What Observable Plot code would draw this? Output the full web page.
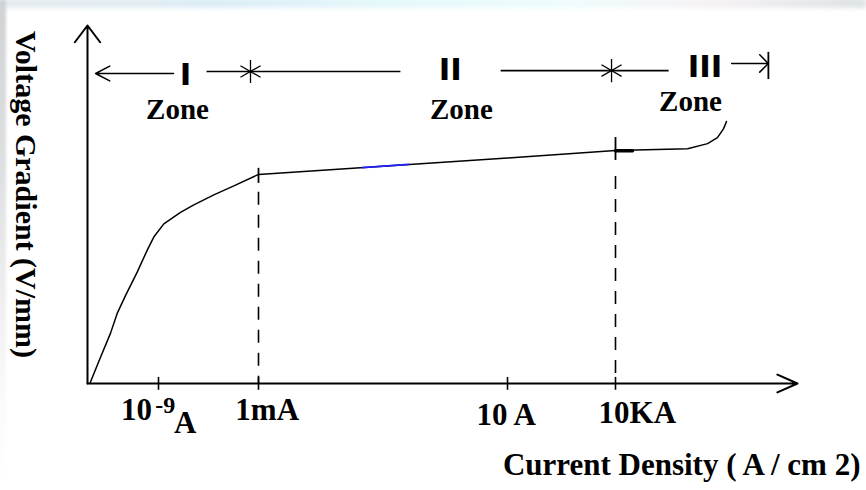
<!DOCTYPE html>
<html>
<head>
<meta charset="utf-8">
<script src="https://cdn.jsdelivr.net/npm/d3@7"></script>
<script src="https://cdn.jsdelivr.net/npm/@observablehq/plot@0.6"></script>
<style>
  html, body { margin: 0; padding: 0; background: #fff; }
  #wrap { position: relative; width: 866px; height: 490px; overflow: hidden; background: #fff; }
  #wrap::before { content: ""; position: absolute; left: 0; top: -2px; width: 866px; height: 10px; z-index: 2;
    background: linear-gradient(to right, #e6ecef, #dcedf5 25%, #e4f8fb 45%, #eefcfd 65%, #f6f2f4 82%, #dde2e5);
    filter: blur(2px); }
  #wrap::after { content: ""; position: absolute; left: -2px; top: 0; width: 8px; height: 490px; z-index: 2;
    background: linear-gradient(to bottom, #cfd2d4, #dedfe0 35%, #eeeeee 60%, #fafafa 80%, #fff);
    filter: blur(1.5px); }
  #wrap svg { position: relative; z-index: 1; }
</style>
</head>
<body>
<div id="wrap"></div>
<script>
// ---- data: log10 of current density (A/cm²) vs. voltage gradient (relative units) ----
const xBreaks  = [-12, -9, -3, 1, 4, 9];          // schematic (non-uniform) current-density axis breakpoints
const logJ     = [-11.9, -11.45, -11.03, -10.75, -10.39, -9.90, -9.48, -9.20, -8.68, -7.68, -6.88, -5.68, -4.48, -3, 1, 4, 5.98, 6.53, 6.80, 6.97, 7.05];
const gradient = [0, 7.35, 14.0, 19.5, 24.6, 31.1, 37.2, 40.9, 44.6, 47.8, 49.9, 52.7, 55.2, 58.4, 63.0, 65.1, 65.6, 67.0, 68.7, 71.2, 73.2];
const highlightJ = [-1.33, -0.59];
const highlightV = [60.3, 61.2];

const tickJ       = [-9, -3, 1, 4];
const tickLabels  = ["10", "1mA", "10 A", "10KA"];
const tickLabelJ  = [-9.93, -2.86, 0.98, 4.60];
const tickLabelV  = [-10.3, -10.1, -11.7, -10.9];
const expLabel    = "-9";  const expJ = -8.60;  const expV = -8.2;
const subLabel    = "A";   const subJ = -7.40;  const subV = -13.9;

const boundaryJ    = [-3, 4];        // zone boundaries (1 mA, 10 kA)
const boundaryTopV = [53.4, 57.8];   // top of dashed guides
const markLowV     = [55.9, 62.3];
const markHighV    = [60.1, 68.7];
const stubJ = [4, 4.47]; const stubV = [65.0, 65.0];

const zoneNumerals = ["I", "II", "III"];
const numeralJ = [-7.38, 0.08, 6.46];
const numeralV = [83.4, 84.9, 85.6];
const zoneWordJ = [-7.86, 0.26, 6.06];
const zoneWordV = [74.0, 74.0, 76.1];
const rowSegJ1 = [-6.12, 0.89];
const rowSegJ2 = [-0.72, 5.46];
const rowSegV  = [87.15, 87.4];
const starJ = [-3.48, 3.89];
const starV = [87.15, 87.4];
const leftArrowJ = [-8.1, -11.66];  const leftArrowV = 86.6;
const rightArrowJ = [7.19, 8.20];   const rightArrowV = 89.4;
const endBarV = [84.9, 92.5];

const xTitle = "Current Density ( A / cm 2)";
const yTitle = "Voltage Gradient (V/mm)";

// ---- chart ----
const serif = "'Liberation Serif','Times New Roman',Times,serif";
const curve = logJ.map((x, i) => ({x, y: gradient[i]}));
const hl = highlightJ.map((x, i) => ({x, y: highlightV[i]}));
const idx = a => a.map((_, i) => i);

const plot = Plot.plot({
  width: 866, height: 490,
  marginTop: 25, marginBottom: 107, marginLeft: 87, marginRight: 69,
  style: {background: "transparent", color: "#000", fontFamily: serif, overflow: "visible"},
  x: {type: "linear", domain: xBreaks, range: [87, 158, 258, 507, 615, 797], axis: null},
  y: {domain: [0, 100], axis: null},
  marks: [
    // axes with arrowheads
    Plot.arrow([0], {x1: () => xBreaks[0], y1: () => 0, x2: () => xBreaks[xBreaks.length - 1], y2: () => 0,
      stroke: "#000", strokeWidth: 2, headLength: 16.5, headAngle: 48}),
    Plot.arrow([0], {x1: () => xBreaks[0], y1: () => 0, x2: () => xBreaks[0], y2: () => 100,
      stroke: "#000", strokeWidth: 2, headLength: 15.75, headAngle: 74}),
    // x ticks
    Plot.ruleX(tickJ, {y1: -1.9, y2: 1.7, stroke: "#000", strokeWidth: 1.6}),
    // dashed guides
    Plot.ruleX(idx(boundaryJ), {x: i => boundaryJ[i], y1: i => boundaryTopV[i], y2: () => 0,
      stroke: "#000", strokeWidth: 1.6, strokeDasharray: "13,10"}),
    // curve
    Plot.line(curve, {x: "x", y: "y", stroke: "#000", strokeWidth: 1.5, strokeLinejoin: "round"}),
    Plot.line(hl, {x: "x", y: "y", stroke: "#1f1fff", strokeWidth: 1.7}),
    // markers on the curve
    Plot.ruleX(idx(boundaryJ), {x: i => boundaryJ[i], y1: i => markLowV[i], y2: i => markHighV[i], stroke: "#000", strokeWidth: 1.8}),
    Plot.line(stubJ.map((x, i) => ({x, y: stubV[i]})), {x: "x", y: "y", stroke: "#000", strokeWidth: 3.5}),
    // tick labels
    Plot.text(tickLabels, {x: (d, i) => tickLabelJ[i], y: (d, i) => tickLabelV[i], text: d => d,
      fontSize: 31, fontWeight: "bold", lineAnchor: "bottom", textAnchor: "middle"}),
    Plot.text([expLabel], {x: () => expJ, y: () => expV, text: d => d, fontSize: 24, fontWeight: "bold", lineAnchor: "bottom"}),
    Plot.text([subLabel], {x: () => subJ, y: () => subV, text: d => d, fontSize: 31, fontWeight: "bold", lineAnchor: "bottom"}),
    // zone row
    Plot.arrow([0], {x1: () => leftArrowJ[0], x2: () => leftArrowJ[1], y1: () => leftArrowV, y2: () => leftArrowV,
      stroke: "#000", strokeWidth: 1.5, headLength: 16, headAngle: 55}),
    Plot.arrow([0], {x1: () => rightArrowJ[0], x2: () => rightArrowJ[1], y1: () => rightArrowV, y2: () => rightArrowV,
      stroke: "#000", strokeWidth: 1.5, headLength: 14, headAngle: 90}),
    Plot.ruleX([rightArrowJ[1]], {y1: endBarV[0], y2: endBarV[1], stroke: "#000", strokeWidth: 1.8}),
    Plot.link(idx(rowSegJ1), {x1: i => rowSegJ1[i], x2: i => rowSegJ2[i], y1: i => rowSegV[i], y2: i => rowSegV[i],
      stroke: "#000", strokeWidth: 1.6}),
    Plot.dot(idx(starJ), {x: i => starJ[i], y: i => starV[i], symbol: "asterisk", r: 11, stroke: "#000", strokeWidth: 1.3}),
    Plot.text(zoneNumerals, {x: (d, i) => numeralJ[i], y: (d, i) => numeralV[i], text: d => d,
      fontFamily: "'DejaVu Sans', sans-serif", fontWeight: "bold", fontSize: 31, lineAnchor: "bottom", textAnchor: "middle"}),
    Plot.text(zoneNumerals, {x: (d, i) => zoneWordJ[i], y: (d, i) => zoneWordV[i], text: () => "Zone",
      fontSize: 29, fontWeight: "bold", lineAnchor: "bottom", textAnchor: "middle"}),
    // axis titles
    Plot.text([xTitle], {frameAnchor: "bottom-right", textAnchor: "end", lineAnchor: "bottom", dx: 63, dy: 91,
      fontSize: 31, fontWeight: "bold"}),
    Plot.text([yTitle], {frameAnchor: "left", rotate: 90, textAnchor: "middle", lineAnchor: "middle", dx: -62, dy: -10,
      fontSize: 30, fontWeight: "bold"})
  ]
});
document.getElementById("wrap").appendChild(plot);
</script>
</body>
</html>
